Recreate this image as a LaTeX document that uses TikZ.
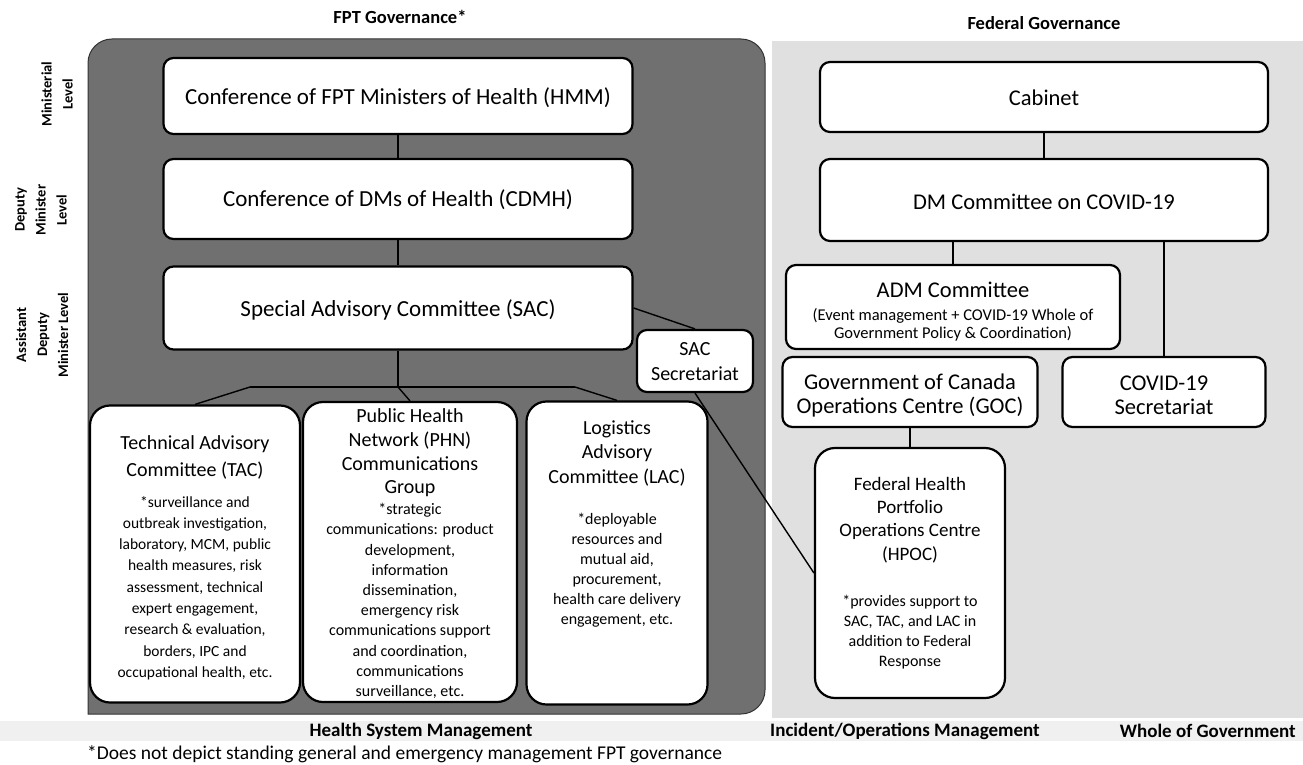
\documentclass[tikz,border=0pt]{standalone}
\usepackage{fontspec}
\setmainfont{Carlito}
\usetikzlibrary{calc}
\begin{document}
\begin{tikzpicture}[x=1pt,y=-1pt,
  box/.style={draw=black,line width=2.2pt,fill=white,rounded corners=10pt,inner sep=0pt},
  tallbox/.style={box,rounded corners=20pt},
  conn/.style={draw=black,line width=1.4pt},
  ttl/.style={font=\fontsize{23}{27}\selectfont,align=center,inner sep=0pt},
  rttl/.style={font=\fontsize{22.5}{24}\selectfont,align=center,inner sep=0pt},
  sttl/.style={font=\fontsize{20}{24}\selectfont,align=center,inner sep=0pt},
  dsc/.style={font=\fontsize{16}{20.2}\selectfont,align=center,inner sep=0pt},
  sidelab/.style={font=\bfseries\fontsize{14.5}{21}\selectfont,align=center,rotate=90,inner sep=0pt},
  headlab/.style={font=\bfseries\fontsize{18.5}{22}\selectfont,inner sep=0pt},
  footlab/.style={font=\bfseries\fontsize{19}{22}\selectfont,inner sep=0pt},
]
\useasboundingbox (0,0) rectangle (1303,765);
\fill[white] (0,0) rectangle (1303,765);
% regions
\fill[black!12] (772,41) rectangle (1303,718);
\fill[black!6] (0,721) rectangle (1303,741);
\filldraw[fill=black!56,draw=black!80,line width=1pt,rounded corners=24pt] (88,714) -- (88,39) -- (765,39) -- (765,714) [sharp corners] -- cycle;

% headings
\node[headlab] (hfpt) at (400,17) {FPT Governance*};
\node[headlab] (hfed) at (1044,23) {Federal Governance};
\node[footlab] (hhsm) at (421,731) {Health System Management};
\node[footlab] (hiom) at (905,731) {Incident/Operations Management};
\node[footlab,anchor=east] (hwog) at (1296,731) {Whole of Government};
\node[font=\fontsize{19.5}{22}\selectfont,anchor=west,inner sep=0pt] (fnote) at (87,754) {*Does not depict standing general and emergency management FPT governance};

% side labels
\node[sidelab] (lmin) at (57,94) {Ministerial\\Level};
\node[sidelab] (ldm) at (41,210) {Deputy\\Minister\\Level};
\node[sidelab] (ladm) at (42,335) {Assistant\\Deputy\\Minister Level};

% FPT boxes
\node[box,minimum width=469pt,minimum height=76pt] (hmm) at (398,96) {};
\node[ttl] (hmmt) at (398,98) {Conference of FPT Ministers of Health (HMM)};
\node[box,minimum width=469pt,minimum height=80pt] (cdmh) at (398,199) {};
\node[ttl] (cdmht) at (398,200) {Conference of DMs of Health (CDMH)};
\node[box,minimum width=469pt,minimum height=83pt] (sac) at (398,308) {};
\node[ttl] (sact) at (398,310) {Special Advisory Committee (SAC)};
\node[box,minimum width=116pt,minimum height=62pt] (sec) at (695,361) {};
\node[sttl,font=\fontsize{20}{25}\selectfont] (sect) at (695,362) {SAC\\Secretariat};

\node[tallbox,minimum width=210pt,minimum height=297pt] (tac) at (195,554) {};
\node[sttl,font=\fontsize{20}{27}\selectfont] (tact) at (195,457) {Technical Advisory\\Committee (TAC)};
\node[dsc,font=\fontsize{15.5}{21.3}\selectfont] (tacd) at (195,588) {*surveillance and\\outbreak investigation,\\laboratory, MCM, public\\health measures, risk\\assessment, technical\\expert engagement,\\research \& evaluation,\\borders, IPC and\\occupational health, etc.};

\node[tallbox,minimum width=214pt,minimum height=300pt] (phn) at (410,552) {};
\node[sttl,font=\fontsize{20}{23.7}\selectfont] (phnt) at (410,453) {Public Health\\Network (PHN)\\Communications\\Group};
\node[dsc] (phnd) at (410,601) {*strategic\\communications: product\\development,\\information\\dissemination,\\emergency risk\\communications support\\and coordination,\\communications\\surveillance, etc.};

\node[tallbox,minimum width=181pt,minimum height=303pt] (lac) at (617,553) {};
\node[sttl,font=\fontsize{20}{24.5}\selectfont] (lact) at (617,453) {Logistics\\Advisory\\Committee (LAC)};
\node[dsc,font=\fontsize{16}{20}\selectfont] (lacd) at (617,570) {*deployable\\resources and\\mutual aid,\\procurement,\\health care delivery\\engagement, etc.};

% Federal boxes
\node[box,minimum width=448pt,minimum height=70pt] (cab) at (1044,97) {};
\node[rttl] (cabt) at (1044,98) {Cabinet};
\node[box,minimum width=448pt,minimum height=82pt] (dm) at (1044,200) {};
\node[rttl] (dmt) at (1044,202) {DM Committee on COVID-19};
\node[box,minimum width=334pt,minimum height=84pt] (adm) at (953,307) {};
\node[rttl] (admt) at (953,290) {ADM Committee};
\node[dsc,font=\fontsize{16.5}{18.5}\selectfont] (admd) at (953,325) {(Event management + COVID-19 Whole of\\Government Policy \& Coordination)};
\node[box,minimum width=255pt,minimum height=70pt] (goc) at (910,392) {};
\node[rttl] (goct) at (910,395) {Government of Canada\\Operations Centre (GOC)};
\node[box,minimum width=203pt,minimum height=70pt] (cs) at (1164,392) {};
\node[rttl] (cst) at (1164,395) {COVID-19\\Secretariat};
\node[tallbox,minimum width=190pt,minimum height=250pt] (hpoc) at (910,573) {};
\node[sttl,font=\fontsize{19}{23.3}\selectfont] (hpoct) at (910,520) {Federal Health\\Portfolio\\Operations Centre\\(HPOC)};
\node[dsc,font=\fontsize{16}{20}\selectfont] (hpocd) at (910,632) {*provides support to\\SAC, TAC, and LAC in\\addition to Federal\\Response};

% connectors FPT
\draw[conn] (hmm.south) -- (cdmh.north);
\draw[conn] (cdmh.south) -- (sac.north);
\coordinate (jl) at (250,387);
\coordinate (jm) at (398,387);
\coordinate (jr) at (575,387);
\draw[conn] (sac.south) -- (jm);
\draw[conn] (jl) -- (jr);
\draw[conn] (jl) -- (tac.north);
\draw[conn] (jm) -- (phn.north);
\draw[conn] (jr) -- (lac.north);
\draw[conn] (sac.east) -- (sec.north);
\draw[conn] (sec.south) -- (hpoc.west);
% connectors federal
\draw[conn] (cab.south) -- (dm.north);
\draw[conn] (adm.north) -- (adm.north |- dm.south);
\draw[conn] (cs.north) -- (cs.north |- dm.south);
\draw[conn] (goc.south) -- (hpoc.north);
\end{tikzpicture}
\end{document}
